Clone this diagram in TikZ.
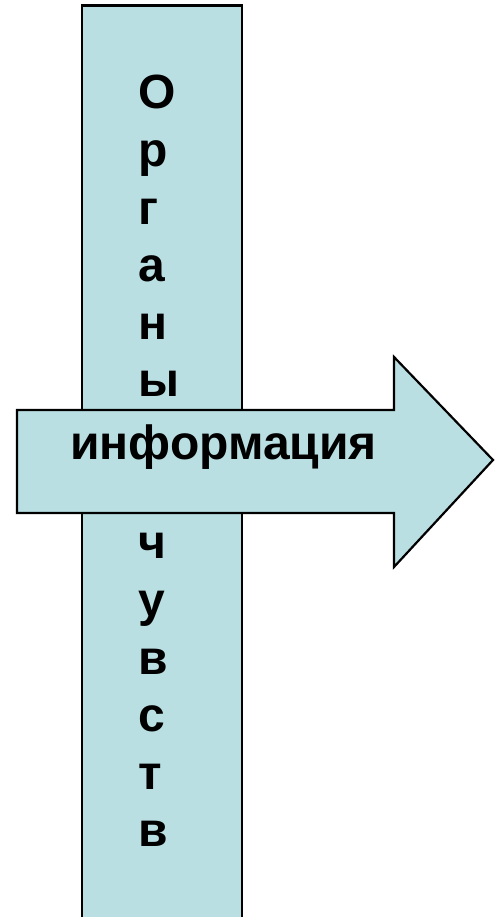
\documentclass[tikz,border=0pt]{standalone}
\usepackage{fontspec}
\setmainfont{Liberation Sans}
\usepackage{tikz}
\usetikzlibrary{positioning}
\definecolor{panel}{RGB}{186,223,227}
\tikzset{
panelshape/.style={
  draw, 
  fill=panel, 
  line width=2.2pt
  }, 
word/.style={
  inner sep=0pt, 
  font=\bfseries\fontsize{48}{57.6}\selectfont, align=left
  }
}
\begin{document}
\begin{tikzpicture}[x=1pt, y=1pt]
\useasboundingbox (0,0) rectangle (495,917);

% vertical bar
\draw[panelshape]	(82,911.5) rectangle (242,-6);
\node[word, anchor=base west]	(organs)	at (138,70)	{О\\р\\г\\а\\н\\ы\\[104.4pt]ч\\у\\в\\с\\т\\в};

% arrow
\coordinate (tailtop)	at (17,507);
\coordinate (tailbot)	at (17,404);
\coordinate (tip)		at (493,457);
\draw[panelshape]	(tailtop) -- (394,507) -- (394,560) -- (tip) -- (394,350) -- (394,404) -- (tailbot) -- cycle;
\node[word, anchor=base west]	(info)	at (70,457)	{информация};
\end{tikzpicture}
\end{document}
